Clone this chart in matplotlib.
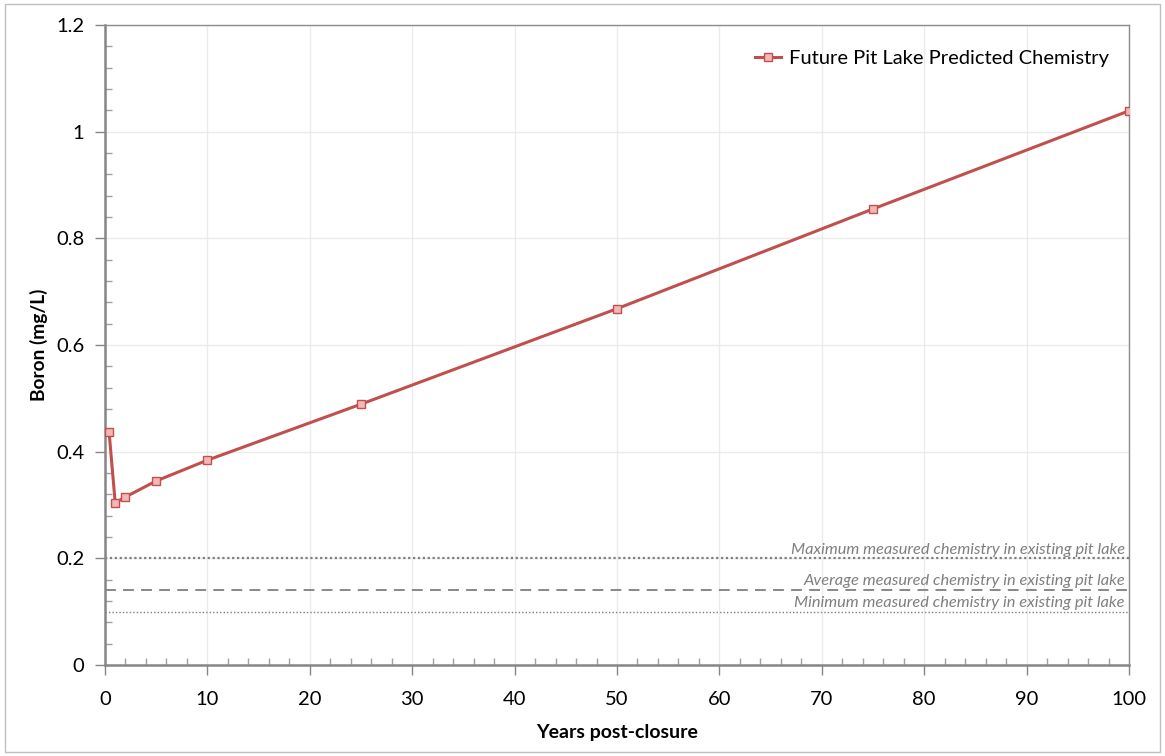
import matplotlib.pyplot as plt
from matplotlib.patches import Rectangle
from matplotlib.ticker import MultipleLocator

# predicted boron concentration in the future pit lake
years = [0.4, 1, 2, 5, 10, 25, 50, 75, 100]
boron = [0.437, 0.304, 0.315, 0.345, 0.384, 0.489, 0.668, 0.855, 1.039]

# measured chemistry in the existing pit lake (mg/L)
measured_max = 0.2
measured_avg = 0.14
measured_min = 0.1

plt.rcParams['font.family'] = ['Lato', 'DejaVu Sans']

fig = plt.figure(figsize=(11.65, 7.56), dpi=100)
ax = fig.add_axes([0.0901, 0.1204, 0.879, 0.8466])

ax.plot(years, boron, '-s', color='#c0504d', lw=2.2, markersize=6,
        markerfacecolor='#f2b7b6', markeredgecolor='#c0504d', markeredgewidth=1,
        label='Future Pit Lake Predicted Chemistry', zorder=3)

grey = '#7f7f7f'
ax.axhline(measured_max, color=grey, lw=1.6, linestyle=(0, (1, 1.2)), zorder=2)
ax.axhline(measured_avg, color=grey, lw=1.3, linestyle=(0, (6, 4)), zorder=2)
ax.axhline(measured_min, color=grey, lw=1.0, linestyle=(0, (1, 1.5)), zorder=2)

label_kw = dict(ha='right', va='bottom', color=grey, style='italic', fontsize=11.8)
ax.text(99.6, measured_max + 0.003, 'Maximum measured chemistry in existing pit lake', **label_kw)
ax.text(99.6, measured_avg + 0.005, 'Average measured chemistry in existing pit lake', **label_kw)
ax.text(99.6, measured_min + 0.003, 'Minimum measured chemistry in existing pit lake', **label_kw)

ax.set_xlim(0, 100)
ax.set_ylim(0, 1.2)
ax.xaxis.set_major_locator(MultipleLocator(10))
ax.xaxis.set_minor_locator(MultipleLocator(2))
ax.yaxis.set_major_locator(MultipleLocator(0.2))
ax.yaxis.set_minor_locator(MultipleLocator(0.04))
ax.yaxis.set_major_formatter(plt.FuncFormatter(lambda v, p: f'{v:g}'))

ax.grid(True, which='major', color='#ebebeb', lw=1, zorder=0)
ax.set_axisbelow(True)

for side in ['left', 'bottom']:
    ax.spines[side].set_color('#868686')
    ax.spines[side].set_linewidth(1.8)
for side in ['top', 'right']:
    ax.spines[side].set_color('#8c8c8c')
    ax.spines[side].set_linewidth(1.0)

ax.tick_params(which='major', direction='out', length=7, width=1, color='#868686',
               labelsize=14.5, pad=8)
ax.tick_params(axis='x', which='major', pad=12)
ax.tick_params(which='minor', direction='in', length=5, width=1, color='#a0a0a0')

ax.set_xlabel('Years post-closure', fontsize=14, fontweight='bold', labelpad=11)
ax.set_ylabel('Boron (mg/L)', fontsize=13.8, fontweight='bold', labelpad=6)

leg = ax.legend(loc='upper right', frameon=False, fontsize=14.5, handlelength=1.3,
                handletextpad=0.4, bbox_to_anchor=(0.998, 0.99))

# light frame round the whole chart
fig.add_artist(Rectangle((0.004, 0.005), 0.992, 0.99, transform=fig.transFigure,
                         fill=False, edgecolor='#bfbfbf', lw=1))

fig.savefig('out.png', dpi=100)
